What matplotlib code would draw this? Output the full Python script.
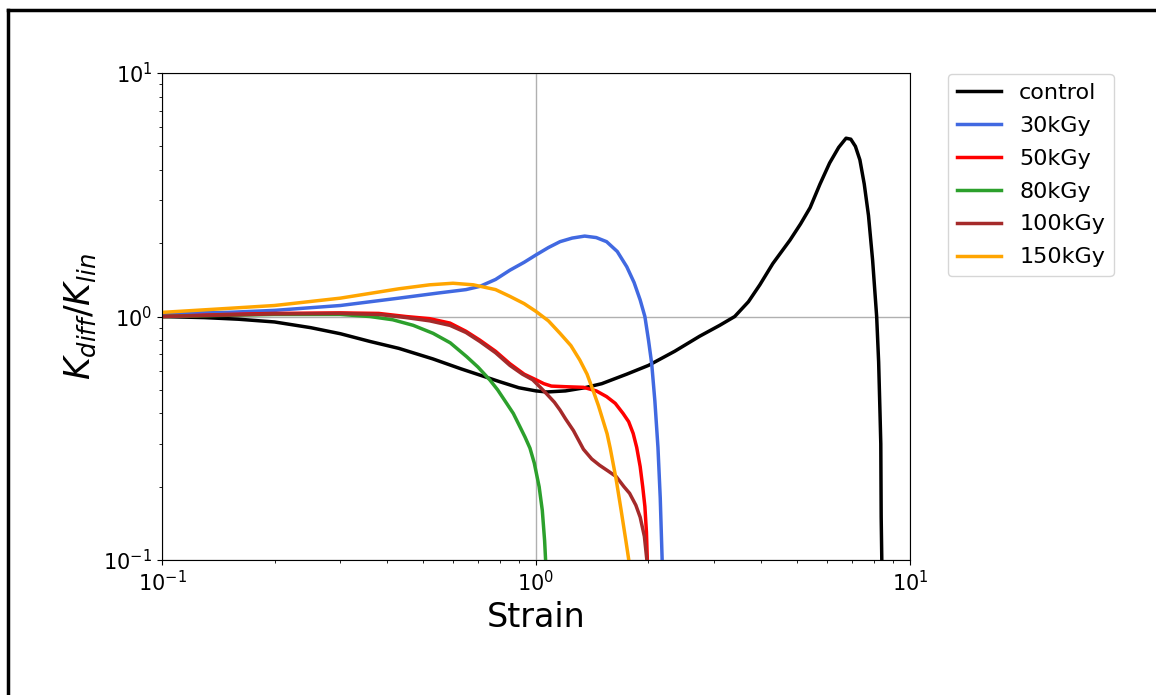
import matplotlib
matplotlib.use("Agg")
import matplotlib.pyplot as plt
from matplotlib.lines import Line2D

# values (strain, K_diff/K_lin)
control_x = [0.1, 0.13, 0.16, 0.2, 0.25, 0.3, 0.36, 0.43, 0.53, 0.63, 0.72, 0.8, 0.9, 1.0, 1.07,
             1.2, 1.35, 1.5, 1.75, 2.0, 2.35, 2.74, 3.1, 3.4, 3.7, 3.97, 4.3, 4.78, 5.1, 5.41, 5.75,
             6.1, 6.45, 6.75, 6.95, 7.15, 7.35, 7.55, 7.75, 7.95, 8.15, 8.25, 8.32, 8.36, 8.38, 8.42]
control_y = [1.0, 0.99, 0.975, 0.95, 0.9, 0.85, 0.79, 0.74, 0.67, 0.61, 0.57, 0.54, 0.51, 0.495, 0.49,
             0.495, 0.51, 0.53, 0.58, 0.63, 0.72, 0.83, 0.92, 1.0, 1.15, 1.35, 1.65, 2.06, 2.4, 2.8, 3.5,
             4.27, 4.95, 5.4, 5.35, 5.0, 4.4, 3.5, 2.6, 1.7, 1.0, 0.65, 0.4, 0.3, 0.15, 0.09]

kgy30_x = [0.1, 0.15, 0.2, 0.3, 0.43, 0.55, 0.65, 0.708, 0.78, 0.852, 0.93, 1.0, 1.08, 1.16, 1.25,
           1.35, 1.45, 1.545, 1.65, 1.75, 1.83, 1.9, 1.956, 2.0, 2.04, 2.08, 2.12, 2.15, 2.18]
kgy30_y = [1.03, 1.04, 1.06, 1.11, 1.19, 1.25, 1.29, 1.33, 1.42, 1.55, 1.67, 1.79, 1.92, 2.03, 2.1,
           2.14, 2.11, 2.03, 1.85, 1.6, 1.38, 1.17, 1.0, 0.8, 0.64, 0.45, 0.29, 0.18, 0.09]

kgy50_x = [0.1, 0.15, 0.2, 0.3, 0.38, 0.45, 0.52, 0.589, 0.65, 0.708, 0.78, 0.852, 0.93, 1.0, 1.05,
           1.1, 1.2, 1.34, 1.45, 1.545, 1.63, 1.71, 1.77, 1.82, 1.86, 1.9, 1.93, 1.956, 1.975, 1.99]
kgy50_y = [1.0, 1.02, 1.03, 1.035, 1.03, 1.0, 0.98, 0.94, 0.87, 0.8, 0.72, 0.64, 0.58, 0.55, 0.53,
           0.518, 0.515, 0.512, 0.495, 0.469, 0.44, 0.4, 0.37, 0.331, 0.29, 0.242, 0.2, 0.166, 0.13, 0.09]

kgy80_x = [0.1, 0.2, 0.3, 0.36, 0.414, 0.47, 0.531, 0.59, 0.653, 0.7, 0.753, 0.79, 0.835, 0.87,
           0.906, 0.935, 0.964, 0.99, 1.02, 1.04, 1.055, 1.065]
kgy80_y = [1.0, 1.02, 1.02, 1.0, 0.97, 0.92, 0.853, 0.78, 0.684, 0.62, 0.549, 0.5, 0.44, 0.4,
           0.353, 0.32, 0.288, 0.25, 0.2, 0.16, 0.12, 0.09]

kgy100_x = [0.1, 0.2, 0.3, 0.38, 0.45, 0.52, 0.589, 0.65, 0.708, 0.78, 0.852, 0.92, 0.98, 1.03,
            1.07, 1.12, 1.16, 1.2, 1.26, 1.34, 1.41, 1.48, 1.56, 1.64, 1.72, 1.78, 1.85, 1.9, 1.95,
            1.98, 2.0]
kgy100_y = [1.0, 1.025, 1.03, 1.02, 0.99, 0.96, 0.92, 0.86, 0.79, 0.71, 0.63, 0.58, 0.55, 0.51,
            0.48, 0.445, 0.413, 0.38, 0.34, 0.285, 0.26, 0.245, 0.232, 0.22, 0.2, 0.188, 0.168, 0.15,
            0.125, 0.1, 0.09]

kgy150_x = [0.1, 0.15, 0.2, 0.3, 0.43, 0.52, 0.6, 0.68, 0.78, 0.852, 0.93, 1.0, 1.08, 1.16, 1.24,
            1.31, 1.37, 1.42, 1.47, 1.51, 1.55, 1.58, 1.64, 1.69, 1.74, 1.79]
kgy150_y = [1.04, 1.08, 1.11, 1.19, 1.3, 1.35, 1.37, 1.35, 1.29, 1.21, 1.13, 1.05, 0.96, 0.853,
            0.76, 0.663, 0.58, 0.5, 0.43, 0.376, 0.33, 0.288, 0.213, 0.16, 0.12, 0.09]

labels = ["control", "30kGy", "50kGy", "80kGy", "100kGy", "150kGy"]
colors = ["black", "royalblue", "red", "tab:green", "brown", "orange"]

fig = plt.figure(figsize=(11.56, 6.95), dpi=100)
ax = fig.add_axes([0.1401, 0.1942, 0.647, 0.7007])

series = [(control_x, control_y), (kgy30_x, kgy30_y), (kgy50_x, kgy50_y),
          (kgy80_x, kgy80_y), (kgy100_x, kgy100_y), (kgy150_x, kgy150_y)]
for (xs, ys), lab, col in zip(series, labels, colors):
    ax.plot(xs, ys, color=col, lw=2.5, label=lab)

ax.set_xscale("log")
ax.set_yscale("log")
ax.set_xlim(0.1, 10)
ax.set_ylim(0.1, 10)
ax.grid(True, which="major", color="#b0b0b0", lw=1)
ax.tick_params(labelsize=15)
ax.set_xlabel("Strain", fontsize=24)
ax.set_ylabel(r"$K_{diff}/K_{lin}$", fontsize=25)

ax.legend(loc="upper left", bbox_to_anchor=(948 / 1156, 1 - 74 / 695),
          bbox_transform=fig.transFigure, borderaxespad=0, fontsize=16, labelspacing=0.58)

# frame edges of the original figure (left and top only visible)
fig.add_artist(Line2D([8 / 1156, 8 / 1156], [0, 1 - 10 / 695], color="black", lw=2.5,
                      transform=fig.transFigure))
fig.add_artist(Line2D([8 / 1156, 1], [1 - 10 / 695, 1 - 10 / 695], color="black", lw=2.5,
                      transform=fig.transFigure))

fig.savefig("out.png", dpi=100)
